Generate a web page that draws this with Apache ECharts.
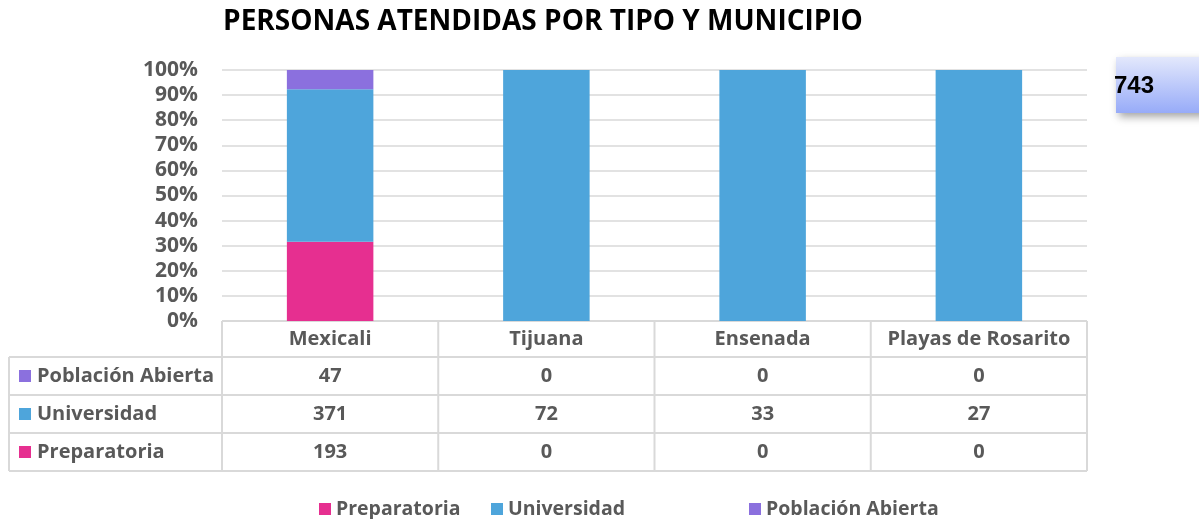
<!DOCTYPE html>
<html>
<head>
<meta charset="utf-8">
<script src="https://cdn.jsdelivr.net/npm/echarts@6/dist/echarts.min.js"></script>
<style>
html, body { margin: 0; padding: 0; background: #fff; }
#chart { width: 1199px; height: 519px; }
</style>
</head>
<body>
<div id="chart"></div>
<script>
// datos
var municipios = ['Mexicali', 'Tijuana', 'Ensenada', 'Playas de Rosarito'];
var preparatoria = [193, 0, 0, 0];
var universidad = [371, 72, 33, 27];
var poblacionAbierta = [47, 0, 0, 0];
var yTicks = [0, 10, 20, 30, 40, 50, 60, 70, 80, 90, 100];
var totalLabel = '743';

var colores = {
	'Preparatoria': '#E62F90',
	'Universidad': '#4EA5DB',
	'Población Abierta': '#8B70DE'
};

var totales = [];
for (var i = 0; i < municipios.length; i++) {
	totales.push(preparatoria[i] + universidad[i] + poblacionAbierta[i]);
}
function pct(arr) {
	var out = [];
	for (var i = 0; i < arr.length; i++) {
		out.push(totales[i] ? arr[i] / totales[i] * 100 : 0);
	}
	return out;
}

var fuente = 'Open Sans';
var gris = '#595959';
var linea = '#D9D9D9';
var tam = 20;

var myChart = echarts.init(document.getElementById('chart'));

function leyenda(nombre, left) {
	return {
		data: [nombre],
		left: left,
		top: 494,
		icon: 'rect',
		itemWidth: 12,
		itemHeight: 12,
		itemGap: 6,
		textStyle: { color: gris, fontFamily: fuente, fontWeight: 'bold', fontSize: 19.5 }
	};
}

var option = {
	animation: false,
	title: {
		text: 'PERSONAS ATENDIDAS POR TIPO Y MUNICIPIO',
		left: 538,
		textAlign: 'center',
		top: 3,
		textStyle: { color: '#000', fontFamily: fuente, fontWeight: 'bold', fontSize: 28 }
	},
	legend: [
		leyenda('Preparatoria', 314),
		leyenda('Universidad', 486),
		leyenda('Población Abierta', 744)
	],
	grid: { left: 222, right: 112, top: 70, bottom: 198 },
	xAxis: {
		type: 'category',
		data: municipios,
		axisLine: { show: false },
		axisTick: { show: false },
		axisLabel: { show: false }
	},
	yAxis: {
		type: 'value',
		min: 0,
		max: 100,
		interval: 10,
		axisLine: { show: false },
		axisTick: { show: false },
		splitLine: { lineStyle: { color: linea, width: 1.5 } },
		axisLabel: {
			formatter: '{value}%',
			margin: 24,
			color: gris,
			fontFamily: fuente,
			fontWeight: 'bold',
			fontSize: 21
		}
	},
	series: [{
		name: 'Preparatoria',
		type: 'bar',
		stack: 'total',
		barWidth: '40%',
		itemStyle: { color: colores['Preparatoria'] },
		data: pct(preparatoria)
	}, {
		name: 'Universidad',
		type: 'bar',
		stack: 'total',
		itemStyle: { color: colores['Universidad'] },
		data: pct(universidad)
	}, {
		name: 'Población Abierta',
		type: 'bar',
		stack: 'total',
		itemStyle: { color: colores['Población Abierta'] },
		data: pct(poblacionAbierta)
	}]
};
myChart.setOption(option);

// tabla de datos debajo del eje
function dibujarTabla() {
	var yBase = myChart.convertToPixel({ yAxisIndex: 0 }, 0);
	var gridLeft = 222, gridRight = 1087, rowLeft = 9;
	var headerH = 36, rowH = 38;
	var g = [];
	var filas = [
		{ nombre: 'Población Abierta', valores: poblacionAbierta },
		{ nombre: 'Universidad', valores: universidad },
		{ nombre: 'Preparatoria', valores: preparatoria }
	];
	var yFin = yBase + headerH + rowH * filas.length;
	var estiloLinea = { stroke: linea, lineWidth: 2 };
	// lineas horizontales
	g.push({ type: 'line', shape: { x1: gridLeft, y1: yBase, x2: gridRight, y2: yBase }, style: estiloLinea });
	for (var r = 0; r <= filas.length; r++) {
		var yy = yBase + headerH + rowH * r;
		g.push({ type: 'line', shape: { x1: rowLeft, y1: yy, x2: gridRight, y2: yy }, style: estiloLinea });
	}
	// lineas verticales
	g.push({ type: 'line', shape: { x1: rowLeft, y1: yBase + headerH, x2: rowLeft, y2: yFin }, style: estiloLinea });
	var ancho = (gridRight - gridLeft) / municipios.length;
	for (var c = 0; c <= municipios.length; c++) {
		var xx = gridLeft + ancho * c;
		g.push({ type: 'line', shape: { x1: xx, y1: yBase, x2: xx, y2: yFin }, style: estiloLinea });
	}
	var txt = { fill: gris, font: 'bold ' + tam + 'px ' + fuente, textAlign: 'center', textVerticalAlign: 'middle' };
	for (var c2 = 0; c2 < municipios.length; c2++) {
		var cx = myChart.convertToPixel({ xAxisIndex: 0 }, municipios[c2]);
		g.push({ type: 'text', x: cx, y: yBase + headerH / 2, style: Object.assign({ text: municipios[c2] }, txt) });
		for (var r2 = 0; r2 < filas.length; r2++) {
			g.push({
				type: 'text', x: cx, y: yBase + headerH + rowH * r2 + rowH / 2,
				style: Object.assign({ text: String(filas[r2].valores[c2]) }, txt)
			});
		}
	}
	for (var r3 = 0; r3 < filas.length; r3++) {
		var cy = yBase + headerH + rowH * r3 + rowH / 2;
		g.push({ type: 'rect', shape: { x: 19, y: cy - 6, width: 12, height: 12 }, style: { fill: colores[filas[r3].nombre] } });
		g.push({
			type: 'text', x: 37, y: cy,
			style: { text: filas[r3].nombre, fill: gris, font: 'bold ' + tam + 'px ' + fuente, textAlign: 'left', textVerticalAlign: 'middle' }
		});
	}
	// cuadro del total
	g.push({
		type: 'rect',
		shape: { x: 1116, y: 57, width: 90, height: 56 },
		style: {
			fill: new echarts.graphic.LinearGradient(0, 0, 0, 1, [
				{ offset: 0, color: '#E3E8FC' },
				{ offset: 1, color: '#97ABF8' }
			]),
			shadowBlur: 8,
			shadowOffsetX: 3,
			shadowOffsetY: 4,
			shadowColor: 'rgba(0,0,0,0.35)'
		}
	});
	g.push({
		type: 'text', x: 1114, y: 86,
		style: { text: totalLabel, fill: '#000', font: 'bold 24px Liberation Sans', textAlign: 'left', textVerticalAlign: 'middle' }
	});
	myChart.setOption({ graphic: g });
}
dibujarTabla();

window.onresize = function() {
	myChart.resize();
};
</script>
</body>
</html>
